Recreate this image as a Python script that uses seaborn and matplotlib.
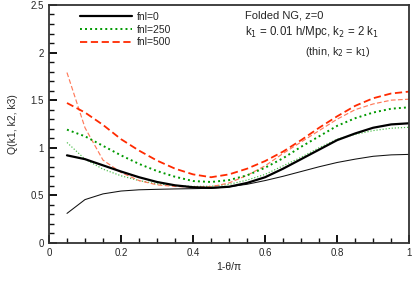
import numpy as np
import pandas as pd
import seaborn as sns
import matplotlib.pyplot as plt
from matplotlib.ticker import MultipleLocator, FormatStrFormatter

# x = 1 - theta/pi
x = [0.05, 0.10, 0.15, 0.20, 0.25, 0.30, 0.35, 0.40, 0.45, 0.50,
     0.55, 0.60, 0.65, 0.70, 0.75, 0.80, 0.85, 0.90, 0.95, 1.00]

# thick: k2 = 2 k1, thin: k2 = k1
fnl0_thick = [0.92, 0.88, 0.815, 0.75, 0.69, 0.64, 0.605, 0.585, 0.578, 0.59,
              0.63, 0.69, 0.78, 0.88, 0.98, 1.08, 1.15, 1.21, 1.245, 1.257]
fnl0_thin = [0.31, 0.455, 0.515, 0.545, 0.558, 0.563, 0.567, 0.57, 0.574, 0.59,
             0.616, 0.655, 0.70, 0.75, 0.80, 0.845, 0.88, 0.91, 0.925, 0.93]
fnl250_thick = [1.19, 1.12, 1.02, 0.92, 0.83, 0.755, 0.695, 0.65, 0.64, 0.66,
                0.71, 0.79, 0.89, 1.01, 1.12, 1.23, 1.31, 1.37, 1.41, 1.425]
fnl250_thin = [1.055, 0.88, 0.775, 0.705, 0.655, 0.62, 0.603, 0.593, 0.595, 0.615,
               0.66, 0.72, 0.81, 0.90, 1.00, 1.09, 1.14, 1.18, 1.205, 1.215]
fnl500_thick = [1.47, 1.37, 1.24, 1.09, 0.97, 0.865, 0.78, 0.72, 0.69, 0.72,
                0.78, 0.86, 0.96, 1.08, 1.21, 1.33, 1.44, 1.52, 1.57, 1.59]
fnl500_thin = [1.79, 1.21, 0.87, 0.74, 0.655, 0.61, 0.593, 0.586, 0.59, 0.63,
               0.71, 0.81, 0.94, 1.06, 1.18, 1.30, 1.40, 1.46, 1.50, 1.51]

labels = ["fnl=0", "fnl=250", "fnl=500"]

sns.set_style("ticks")
plt.rcParams["font.sans-serif"] = ["Liberation Sans"]

fig = plt.figure(figsize=(4.15, 2.93), dpi=100)
ax = fig.add_axes([0.118, 0.171, 0.868, 0.812])

dots = (0, (1, 1.6))
dash = (0, (4, 2))

# thin curves first
sns.lineplot(x=x, y=fnl0_thin, ax=ax, color="#111111", lw=0.75)
sns.lineplot(x=x, y=fnl250_thin, ax=ax, color="#44bb44", lw=0.85, linestyle=dots)
sns.lineplot(x=x, y=fnl500_thin, ax=ax, color="#ff7a5a", lw=0.85, linestyle=dash)

# thick curves
sns.lineplot(x=x, y=fnl0_thick, ax=ax, color="#000000", lw=1.6, label=labels[0])
sns.lineplot(x=x, y=fnl250_thick, ax=ax, color="#009900", lw=1.4, linestyle=dots, label=labels[1])
sns.lineplot(x=x, y=fnl500_thick, ax=ax, color="#ff2a00", lw=1.3, linestyle=dash, label=labels[2])

ax.set_xlim(0, 1)
ax.set_ylim(0, 2.5)
ax.xaxis.set_major_locator(MultipleLocator(0.2))
ax.yaxis.set_major_locator(MultipleLocator(0.5))
ax.xaxis.set_minor_locator(MultipleLocator(0.05))
ax.yaxis.set_minor_locator(MultipleLocator(0.1))
ax.xaxis.set_major_formatter(FormatStrFormatter("%g"))
ax.yaxis.set_major_formatter(FormatStrFormatter("%g"))

ax.set_xlabel("1-θ/π", fontsize=7.5, labelpad=3)
ax.set_ylabel("Q(k1, k2, k3)", fontsize=7.5, labelpad=9)

ax.legend(loc="upper left", bbox_to_anchor=(0.06, 1.01), frameon=False,
          handlelength=5.0, fontsize=7.5, labelspacing=0.25, handletextpad=0.5)

ax.text(0.545, 0.945, "Folded NG, z=0", transform=ax.transAxes, fontsize=8)
ax.text(0.545, 0.875, "k$_1$ = 0.01 h/Mpc, k$_2$ = 2 k$_1$", transform=ax.transAxes,
        fontsize=8.3)
ax.text(0.71, 0.79, "(thin, k$_2$ = k$_1$)", transform=ax.transAxes, fontsize=7.8)

sns.despine(ax=ax, top=False, right=False)
for s in ax.spines.values():
    s.set_linewidth(1.3)
    s.set_edgecolor("#333333")

ax.tick_params(which="both", direction="in", color="#111111", labelsize=7)
ax.tick_params(which="major", length=6, width=1.4)
ax.tick_params(which="minor", length=3.5, width=1.0)

plt.savefig("out.png", dpi=100)
